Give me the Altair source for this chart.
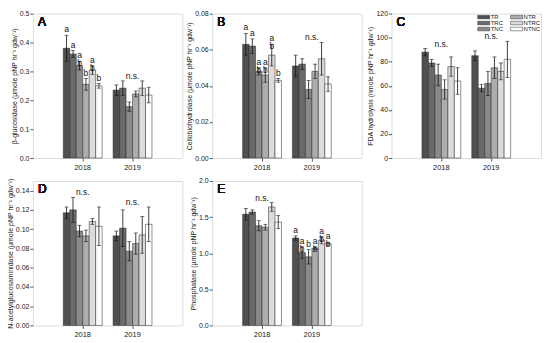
import altair as alt
import pandas as pd

treatments = ["TR", "TRC", "TNC", "NTR", "NTRC", "NTNC"]
years = ["2018", "2019"]
fill_colors = {"TR": "#505050", "TRC": "#6a6a6a", "TNC": "#8a8a8a",
               "NTR": "#adadad", "NTRC": "#dcdcdc", "NTNC": "#ffffff"}

# Panel A: beta-glucosidase
a_mean_2018 = [0.38, 0.36, 0.32, 0.255, 0.305, 0.25]
a_err_2018 = [0.045, 0.012, 0.015, 0.02, 0.015, 0.008]
a_mean_2019 = [0.235, 0.242, 0.178, 0.222, 0.242, 0.218]
a_err_2019 = [0.018, 0.025, 0.016, 0.01, 0.025, 0.027]
a_letters_2018 = ["a", "a", "a\nb", "b", "a\nb", "b"]

# Panel B: cellobiohydrolase
b_mean_2018 = [0.063, 0.062, 0.048, 0.046, 0.057, 0.043]
b_err_2018 = [0.006, 0.004, 0.002, 0.004, 0.006, 0.001]
b_mean_2019 = [0.051, 0.052, 0.038, 0.048, 0.055, 0.041]
b_err_2019 = [0.006, 0.003, 0.005, 0.004, 0.009, 0.004]
b_letters_2018 = ["a", "a", "a\nb", "a\nb", "a\nb", "b"]

# Panel C: FDA hydrolysis
c_mean_2018 = [88, 79, 69, 57, 76, 64]
c_err_2018 = [3, 3, 9, 8, 8, 11]
c_mean_2019 = [85, 58, 62, 75, 72, 82]
c_err_2019 = [4, 3, 10, 9, 7, 15]

# Panel D: N-acetylglucosaminidase
d_mean_2018 = [0.117, 0.120, 0.098, 0.093, 0.108, 0.103]
d_err_2018 = [0.006, 0.013, 0.006, 0.006, 0.003, 0.020]
d_mean_2019 = [0.093, 0.101, 0.077, 0.085, 0.094, 0.105]
d_err_2019 = [0.005, 0.019, 0.010, 0.011, 0.019, 0.018]

# Panel E: phosphatase
e_mean_2018 = [1.54, 1.57, 1.38, 1.36, 1.64, 1.43]
e_err_2018 = [0.08, 0.03, 0.07, 0.04, 0.06, 0.09]
e_mean_2019 = [1.21, 1.01, 0.95, 1.07, 1.18, 1.13]
e_err_2019 = [0.03, 0.08, 0.10, 0.02, 0.05, 0.02]
e_letters_2019 = ["a", "a\nb", "b", "a\nb", "a\nb", "a\nb"]

FONT = "Liberation Sans"


def build_df(m18, e18, m19, e19, l18=None, l19=None):
    rows = []
    for yr, means, errs, lets in (("2018", m18, e18, l18), ("2019", m19, e19, l19)):
        for i, t in enumerate(treatments):
            rows.append({"year": yr, "trt": t, "mean": means[i],
                         "lo": means[i] - errs[i], "hi": means[i] + errs[i],
                         "letter": lets[i] if lets else ""})
    return pd.DataFrame(rows)


def panel(label, df, ymax, step, fmt, title, ns_years, legend=False):
    xs = alt.X("year:N", sort=years,
               scale=alt.Scale(paddingInner=0.22, paddingOuter=0.61),
               axis=alt.Axis(title=None, labelAngle=0, labelFontSize=7.5, labelFont=FONT,
                             labelColor="#222", tickSize=3, tickColor="#555",
                             domain=False, labelPadding=2))
    xo = alt.XOffset("trt:N", sort=treatments, scale=alt.Scale(paddingInner=0, paddingOuter=0))
    yscale = alt.Scale(domain=[0, ymax], nice=False)
    yaxis = alt.Axis(title=title, values=[round(step * k, 4) for k in range(int(round(ymax / step)) + 1)],
                     format=fmt, labelFontSize=7, labelFont=FONT, labelColor="#222",
                     labelOverlap=False, labelFlush=False,
                     titleFontSize=7, titleFont=FONT, titleFontWeight="normal",
                     titleColor="#222", titlePadding=2, tickSize=3, tickColor="#555",
                     grid=False, domain=False, labelPadding=1)

    def Y(field):
        return alt.Y(field, scale=yscale, axis=yaxis)

    if legend:
        leg = alt.Legend(title=None, orient="top-right", columns=2, offset=0,
                         labelFontSize=6, labelFont=FONT, labelColor="#222",
                         symbolType="M-2.2,-0.65L2.2,-0.65L2.2,0.65L-2.2,0.65Z",
                         symbolSize=30, symbolStrokeColor="#333", symbolStrokeWidth=0.5,
                         rowPadding=0, columnPadding=5, labelOffset=4, padding=0.5)
    else:
        leg = None
    color = alt.Color("trt:N", scale=alt.Scale(domain=treatments,
                                               range=[fill_colors[t] for t in treatments]),
                      legend=leg)
    base = alt.Chart(df)
    bars = base.mark_bar(stroke="#222", strokeWidth=0.5).encode(x=xs, xOffset=xo, y=Y("mean:Q"), color=color)
    rule = base.mark_rule(color="#111", strokeWidth=0.8).encode(x=xs, xOffset=xo, y=Y("lo:Q"), y2="hi:Q")
    cap_hi = base.mark_tick(color="#111", size=4, thickness=0.8).encode(x=xs, xOffset=xo, y=Y("hi:Q"))
    cap_lo = base.mark_tick(color="#111", size=4, thickness=0.8).encode(x=xs, xOffset=xo, y=Y("lo:Q"))
    layers = [bars, rule, cap_hi, cap_lo]
    if (df["letter"] != "").any():
        txt = base.mark_text(baseline="bottom", dy=-1, lineBreak="\n", fontSize=8.5, font=FONT,
                             color="#111", lineHeight=8).encode(
            x=xs, xOffset=xo, y=Y("hi:Q"), text="letter:N")
        layers.append(txt)
    if ns_years:
        ns = df[df["year"].isin(ns_years)].groupby("year", as_index=False)["hi"].max()
        ns["lab"] = "n.s."
        ns_txt = alt.Chart(ns).mark_text(baseline="bottom", dy=0, fontSize=8.5, font=FONT,
                                          color="#111").encode(x=xs, y=Y("hi:Q"), text="lab:N")
        layers.append(ns_txt)
    lab = base.mark_text(align="left", baseline="top", fontSize=12, font=FONT, color="#111").encode(
        x=alt.value(5), y=alt.value(3), text=alt.value(label))
    layers.append(lab)
    return alt.layer(*layers).properties(width=150, height=145)


pA = panel("A", build_df(a_mean_2018, a_err_2018, a_mean_2019, a_err_2019, l18=a_letters_2018),
           0.5, 0.1, ".1f", "β-glucosidase (µmole pNP hr⁻¹ gdw⁻¹)", ["2019"])
pB = panel("B", build_df(b_mean_2018, b_err_2018, b_mean_2019, b_err_2019, l18=b_letters_2018),
           0.08, 0.02, ".2f", "Cellobiohydrolase (µmole pNP hr⁻¹ gdw⁻¹)", ["2019"])
pC = panel("C", build_df(c_mean_2018, c_err_2018, c_mean_2019, c_err_2019),
           120, 20, "d", "FDA hydrolysis (nmole pNP hr⁻¹ gdw⁻¹)", ["2018", "2019"], legend=True)
pD = panel("D", build_df(d_mean_2018, d_err_2018, d_mean_2019, d_err_2019),
           0.15, 0.02, ".2f", "N-acetylglucosaminidase (µmole pNP hr⁻¹ gdw⁻¹)", ["2018", "2019"])
pE = panel("E", build_df(e_mean_2018, e_err_2018, e_mean_2019, e_err_2019, l19=e_letters_2019),
           2.0, 0.5, ".1f", "Phosphatase (µmole pNP hr⁻¹ gdw⁻¹)", ["2018"])

chart = alt.concat(pA, pB, pC, pD, pE, columns=3, spacing={"row": 23, "column": 30},
                   bounds="flush").resolve_scale(
    color="independent", x="independent", y="independent", xOffset="independent"
).configure_view(stroke="#777", strokeWidth=1).configure(background="white").properties(
    padding={"left": -3, "top": 0, "right": 0, "bottom": 0})

chart.save("out.html", embed_options={"renderer": "svg", "actions": False})
